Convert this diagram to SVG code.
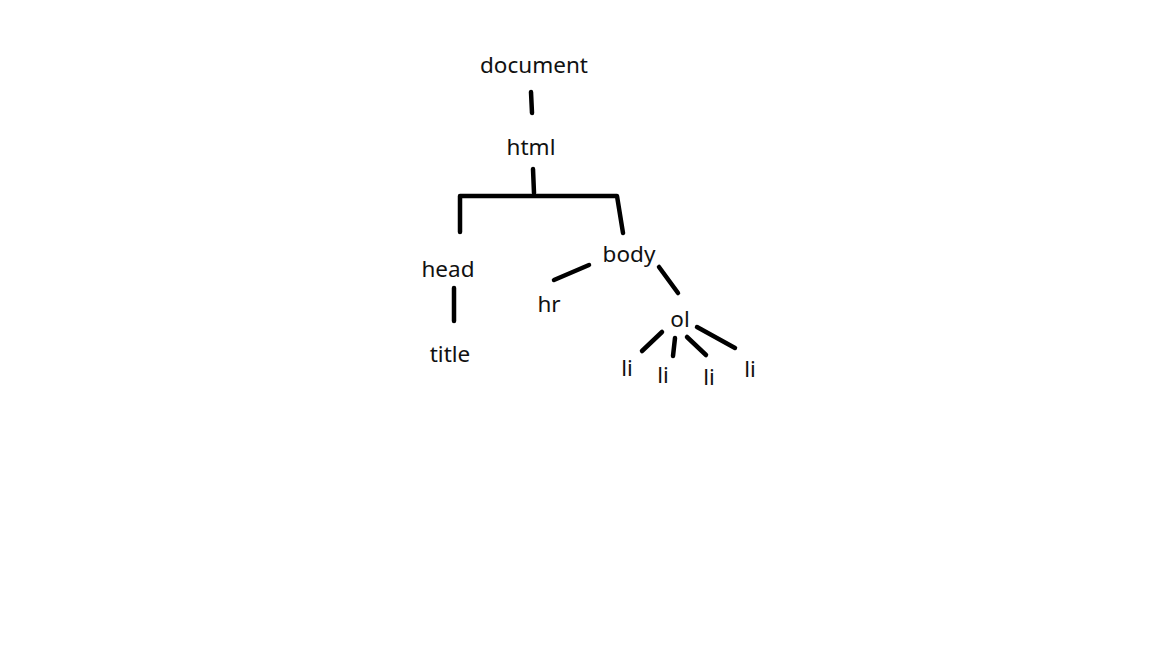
<svg xmlns="http://www.w3.org/2000/svg" width="1152" height="648" viewBox="0 0 1152 648">
<style>
text{font-family:"Noto Sans","Open Sans","DejaVu Sans",sans-serif;font-size:22.5px;fill:#111;text-anchor:middle}
.c line,.c polyline{stroke:#000;stroke-width:4.5;stroke-linecap:round;stroke-linejoin:round;fill:none}
</style>
<rect width="1152" height="648" fill="#fff"/>
<g class="c" id="connectors">
<line x1="531" y1="92" x2="532" y2="113"/>
<line x1="533" y1="169" x2="534" y2="193"/>
<polyline points="460,232 460,196 617,196 623,233"/>
<line x1="454" y1="288" x2="454" y2="321"/>
<line x1="589" y1="265" x2="554" y2="280"/>
<line x1="659" y1="267" x2="678" y2="293"/>
<line x1="662" y1="332" x2="642" y2="351"/>
<line x1="675" y1="338" x2="673" y2="356"/>
<line x1="687" y1="337" x2="706" y2="355"/>
<line x1="697" y1="327" x2="735" y2="348"/>
</g>
<g id="document"><text x="534" y="73">document</text></g>
<g id="html"><text x="531" y="155">html</text></g>
<g id="head"><text x="448" y="277">head</text></g>
<g id="title"><text x="450" y="362">title</text></g>
<g id="body"><text x="629" y="262">body</text></g>
<g id="hr"><text x="549" y="312">hr</text></g>
<g id="ol"><text x="680" y="327">ol</text></g>
<g id="li1"><text x="627" y="376">li</text></g>
<g id="li2"><text x="663" y="383">li</text></g>
<g id="li3"><text x="709" y="385">li</text></g>
<g id="li4"><text x="750" y="377">li</text></g>
</svg>
